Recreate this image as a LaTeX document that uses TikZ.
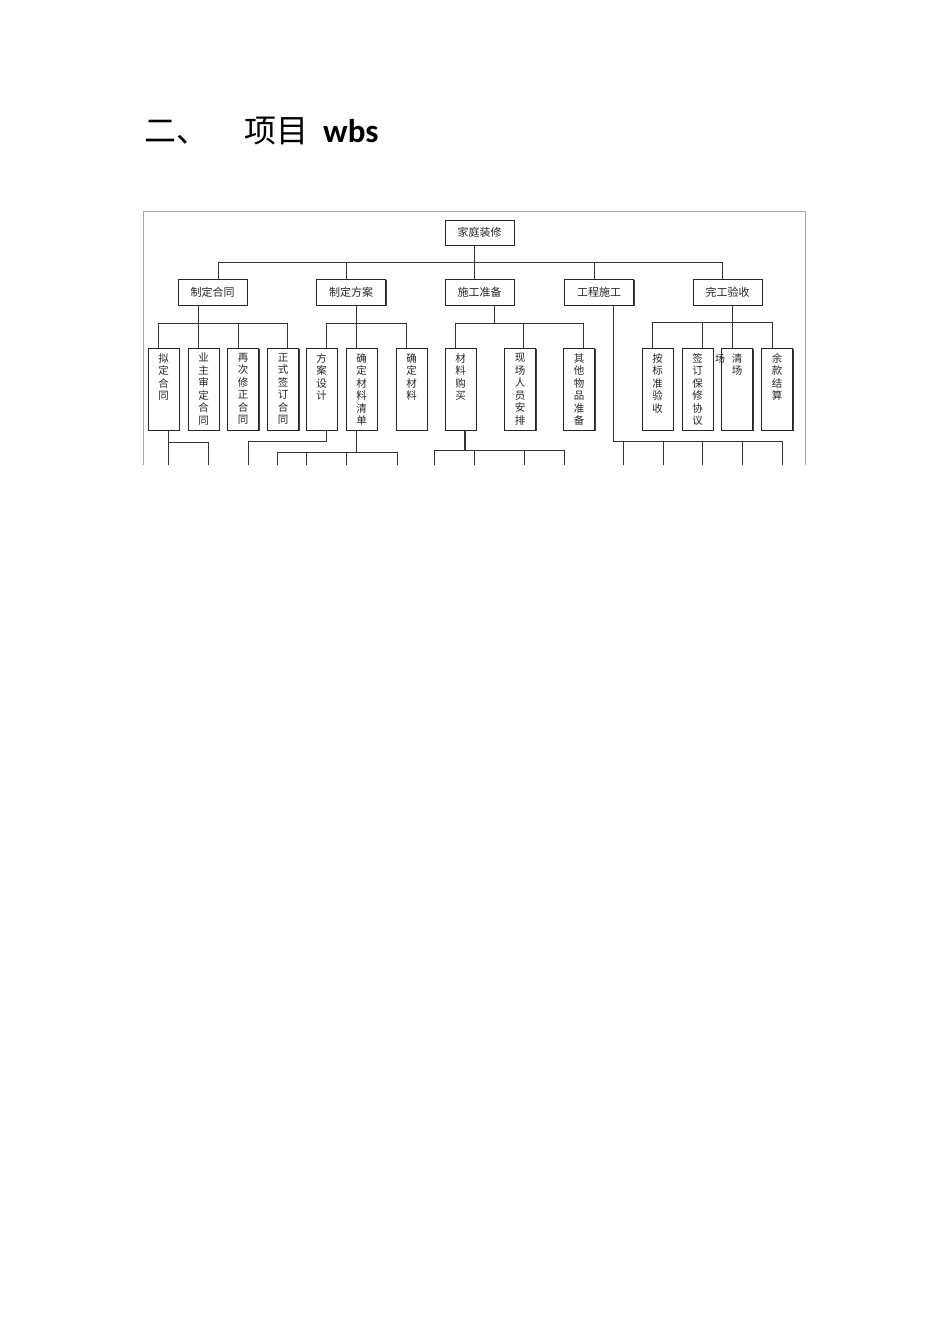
\documentclass[tikz,border=0pt]{standalone}
\usepackage{fontspec}
\newfontfamily\cjk{Noto Sans CJK SC}
\newfontfamily\wbsfont{Carlito}
\usetikzlibrary{shadows}
\tikzset{
  conn/.style={draw=black!80, line width=1pt},
  framec/.style={draw=black!35, line width=0.9pt},
  boxshadow/.style={drop shadow={shadow xshift=1.3pt,shadow yshift=-1.3pt,fill=black!75,opacity=1}},
  topbox/.style={draw=black!85,line width=0.8pt,fill=white,boxshadow,minimum width=69pt,minimum height=26pt,inner sep=0pt,font=\cjk\fontsize{11pt}{13pt}\selectfont,text=black!85},
  kidbox/.style={draw=black!85,line width=0.8pt,fill=white,boxshadow,minimum width=31pt,minimum height=82pt,inner sep=0pt},
  kidtxt/.style={anchor=north,inner sep=0pt,align=center,font=\cjk\fontsize{10.5pt}{12.5pt}\selectfont,text=black!85},
  titletxt/.style={anchor=base west,inner sep=0pt,font=\cjk\fontsize{32pt}{36pt}\selectfont,text=black},
}
\newcommand\kid[3]{\node[kidbox] (#1) at (#2,389) {}; \node[kidtxt] (#1t) at (#2,353) {#3};}
\begin{document}
\begin{tikzpicture}[x=1pt,y=-1pt]
\fill[white] (0,0) rectangle (950,1344);
\useasboundingbox (0,0) rectangle (950,1344);
% title
\node[titletxt] (t1) at (144,142) {二、};
\node[titletxt] (t2) at (244,142) {项目};
\node[titletxt,font=\wbsfont\bfseries\fontsize{33pt}{36pt}\selectfont] (t3) at (323,142) {wbs};
% frame
\draw[framec] (143.5,465) -- (143.5,211.5) -- (805.5,211.5) -- (805.5,465);
% root and level 1
\node[topbox,minimum height=25pt] (root) at (479.5,232.5) {家庭装修};
\node[topbox] (n1) at (212.5,292) {制定合同};
\node[topbox] (n2) at (351,292) {制定方案};
\node[topbox] (n3) at (479.5,292) {施工准备};
\node[topbox] (n4) at (599,292) {工程施工};
\node[topbox] (n5) at (727.5,292) {完工验收};
% level 2
\kid{k1}{163.5}{拟\\定\\合\\同}
\kid{k2}{203.5}{业\\主\\审\\定\\合\\同}
\kid{k3}{243}{再\\次\\修\\正\\合\\同}
\kid{k4}{283}{正\\式\\签\\订\\合\\同}
\kid{k5}{321.5}{方\\案\\设\\计}
\kid{k6}{361.5}{确\\定\\材\\料\\清\\单}
\kid{k7}{411.5}{确\\定\\材\\料}
\kid{k8}{460.5}{材\\料\\购\\买}
\kid{k9}{520}{现\\场\\人\\员\\安\\排}
\kid{k10}{579}{其\\他\\物\\品\\准\\备}
\kid{k11}{657.5}{按\\标\\准\\验\\收}
\kid{k12}{697.5}{签\\订\\保\\修\\协\\议}
\kid{k13}{737}{清\\场}
\kid{k14}{777}{余\\款\\结\\算}
\node[inner sep=0pt,font=\cjk\fontsize{10pt}{12pt}\selectfont,text=black!85] (stray) at (720,359) {场};
% root bus
\draw[conn] (474,0 |- root.south) -- (474,0 |- n3.north);
\draw[conn] (218,262) -- (722,262);
\draw[conn] (218,262) -- (218,0 |- n1.north);
\draw[conn] (346,262) -- (346,0 |- n2.north);
\draw[conn] (594,262) -- (594,0 |- n4.north);
\draw[conn] (722,262) -- (722,0 |- n5.north);
% n1 children
\draw[conn] (198,0 |- n1.south) -- (198,0 |- k2.north);
\draw[conn] (158,323) -- (287,323);
\draw[conn] (158,323) -- (158,0 |- k1.north);
\draw[conn] (238,323) -- (238,0 |- k3.north);
\draw[conn] (287,323) -- (287,0 |- k4.north);
% n2 children
\draw[conn] (356,0 |- n2.south) -- (356,0 |- k6.north);
\draw[conn] (326,323) -- (406,323);
\draw[conn] (326,323) -- (326,0 |- k5.north);
\draw[conn] (406,323) -- (406,0 |- k7.north);
% n3 children
\draw[conn] (494,0 |- n3.south) -- (494,323);
\draw[conn] (455,323) -- (583,323);
\draw[conn] (455,323) -- (455,0 |- k8.north);
\draw[conn] (523,323) -- (523,0 |- k9.north);
\draw[conn] (583,323) -- (583,0 |- k10.north);
% n5 children
\draw[conn] (732,0 |- n5.south) -- (732,0 |- k13.north);
\draw[conn] (652,322) -- (772,322);
\draw[conn] (652,322) -- (652,0 |- k11.north);
\draw[conn] (702,322) -- (702,0 |- k12.north);
\draw[conn] (772,322) -- (772,0 |- k14.north);
% n4 lower bus
\draw[conn] (613,0 |- n4.south) -- (613,441) -- (782,441);
\foreach \x in {623,663,702,742,782} \draw[conn] (\x,441) -- (\x,465);
% k1 lower
\draw[conn] (168,0 |- k1.south) -- (168,465);
\draw[conn] (168,442) -- (208,442) -- (208,465);
% k5 lower
\draw[conn] (326,0 |- k5.south) -- (326,441) -- (248,441) -- (248,465);
% k6 lower
\draw[conn] (356,0 |- k6.south) -- (356,452);
\draw[conn] (277,452) -- (397,452);
\foreach \x in {277,306,346,397} \draw[conn] (\x,452) -- (\x,465);
% k8 lower
\draw[conn,line width=1.6pt] (465,0 |- k8.south) -- (465,450);
\draw[conn] (434,450) -- (564,450);
\foreach \x in {434,474,524,564} \draw[conn] (\x,450) -- (\x,465);
\end{tikzpicture}
\end{document}
